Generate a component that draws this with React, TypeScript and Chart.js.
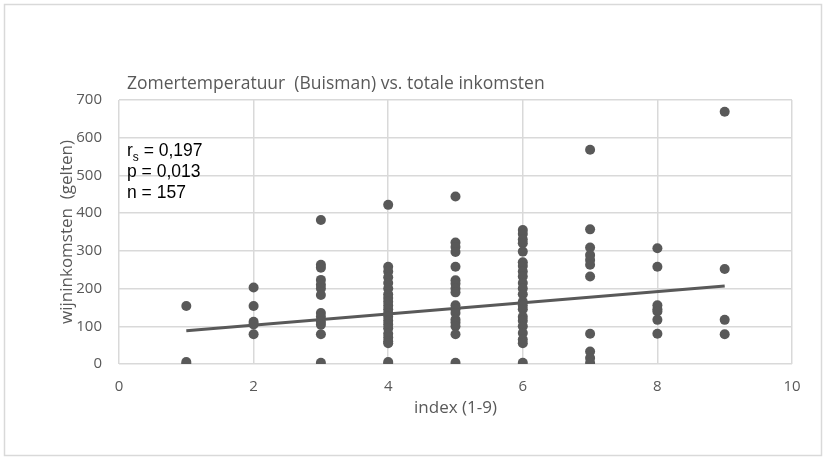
import React, { useEffect, useRef } from "react";
import { Chart, registerables } from "chart.js";

Chart.register(...registerables);

const chartTitle = "Zomertemperatuur  (Buisman) vs. totale inkomsten";
const xAxisTitle = "index (1-9)";
const yAxisTitle = "wijninkomsten  (gelten)";
const statR = "0,197";
const statP = "p = 0,013";
const statN = "n = 157";

const xMin = 0;
const xMax = 10;
const xStep = 2;
const yMin = 0;
const yMax = 700;
const yStep = 100;

// income (gelten) per summer-temperature index
const index1 = [154, 5, 0];
const index2 = [203, 154, 112, 105, 79];
const index3 = [382, 263, 255, 223, 210, 200, 183, 135, 125, 112, 104, 79, 3];
const index4 = [422, 258, 245, 230, 215, 200, 185, 175, 165, 155, 145, 135, 125, 115, 105, 95, 80, 70, 60, 55, 5, 0];
const index5 = [444, 322, 310, 297, 258, 222, 213, 200, 190, 156, 145, 135, 118, 110, 100, 79, 3];
const index6 = [355, 345, 330, 320, 298, 270, 260, 245, 232, 215, 200, 185, 165, 155, 145, 125, 115, 100, 82, 65, 55, 3];
const index7 = [568, 357, 309, 289, 276, 263, 232, 80, 33, 16, 3];
const index8 = [307, 258, 156, 145, 139, 117, 80];
const index9 = [669, 252, 117, 79];

const trendX = [1, 9];
const trendY = [88, 207];

const GRAY = "#595959";
const GRID = "#d9d9d9";
const FONT = "'Open Sans', Lato, sans-serif";

export default function App() {
  const ref = useRef<HTMLCanvasElement | null>(null);

  useEffect(() => {
    if (!ref.current) return;
    const groups = [index1, index2, index3, index4, index5, index6, index7, index8, index9];
    const points: { x: number; y: number }[] = [];
    groups.forEach((vals, i) => vals.forEach((v) => points.push({ x: i + 1, y: v })));
    const trend = trendX.map((x, i) => ({ x, y: trendY[i] }));

    const decor = {
      id: "decor",
      beforeDraw(chart: any) {
        const ctx = chart.ctx;
        ctx.save();
        ctx.fillStyle = "#ffffff";
        ctx.fillRect(0, 0, chart.width, chart.height);
        ctx.strokeStyle = GRID;
        ctx.lineWidth = 1.5;
        ctx.strokeRect(4.5, 4.5, chart.width - 8, chart.height - 8);
        ctx.restore();
      },
      afterDraw(chart: any) {
        const ctx = chart.ctx;
        const a = chart.chartArea;
        ctx.save();
        ctx.fillStyle = GRAY;
        ctx.font = "17.5px " + FONT;
        ctx.textAlign = "left";
        ctx.textBaseline = "middle";
        ctx.fillText(chartTitle, a.left + 8, 84);

        ctx.font = "17px " + FONT;
        ctx.textAlign = "center";
        ctx.fillText(xAxisTitle, (a.left + a.right) / 2, 408);

        ctx.save();
        ctx.translate(67, (a.top + a.bottom) / 2);
        ctx.rotate(-Math.PI / 2);
        ctx.fillText(yAxisTitle, 0, 0);
        ctx.restore();

        // stats
        ctx.fillStyle = "#000000";
        ctx.textAlign = "left";
        ctx.textBaseline = "alphabetic";
        const x0 = a.left + 8;
        const big = "17.5px 'Liberation Sans', Arial, sans-serif";
        ctx.font = big;
        ctx.fillText("r", x0, 156);
        let w = ctx.measureText("r").width;
        ctx.font = "12px 'Liberation Sans', Arial, sans-serif";
        ctx.fillText("s", x0 + w, 161);
        w += ctx.measureText("s").width;
        ctx.font = big;
        ctx.fillText(" = " + statR, x0 + w, 156);
        ctx.fillText(statP, x0, 177);
        ctx.fillText(statN, x0, 198);
        ctx.restore();
      },
    };

    const chart = new Chart(ref.current, {
      type: "scatter",
      data: {
        datasets: [
          {
            type: "scatter",
            data: points,
            pointRadius: 5,
            pointHoverRadius: 5,
            backgroundColor: GRAY,
            borderWidth: 0,
          },
          {
            type: "line",
            data: trend,
            borderColor: GRAY,
            borderWidth: 3,
            pointRadius: 0,
            fill: false,
          } as any,
        ],
      },
      options: {
        animation: false,
        responsive: false,
        devicePixelRatio: 1,
        layout: { padding: { top: 100, right: 33, bottom: 55, left: 0 } },
        plugins: { legend: { display: false }, title: { display: false }, tooltip: { enabled: false } },
        scales: {
          x: {
            type: "linear",
            min: xMin,
            max: xMax,
            ticks: {
              stepSize: xStep,
              color: GRAY,
              font: { family: FONT, size: 15 },
              padding: 14,
            },
            grid: { color: GRID, lineWidth: 1.5, drawTicks: false },
            border: { display: false },
            afterFit: (s: any) => {
              s.height = 40;
            },
          },
          y: {
            type: "linear",
            min: yMin,
            max: yMax,
            ticks: {
              stepSize: yStep,
              color: GRAY,
              font: { family: FONT, size: 15 },
              padding: 17,
            },
            grid: { color: GRID, lineWidth: 1.5, drawTicks: false },
            border: { display: false },
            afterFit: (s: any) => {
              s.width = 119;
            },
          },
        },
      },
      plugins: [decor],
    });
    return () => chart.destroy();
  }, []);

  return (
    <div style={{ position: "fixed", left: 0, top: 0, width: 825, height: 459 }}>
      <canvas ref={ref} width={825} height={459} />
    </div>
  );
}
